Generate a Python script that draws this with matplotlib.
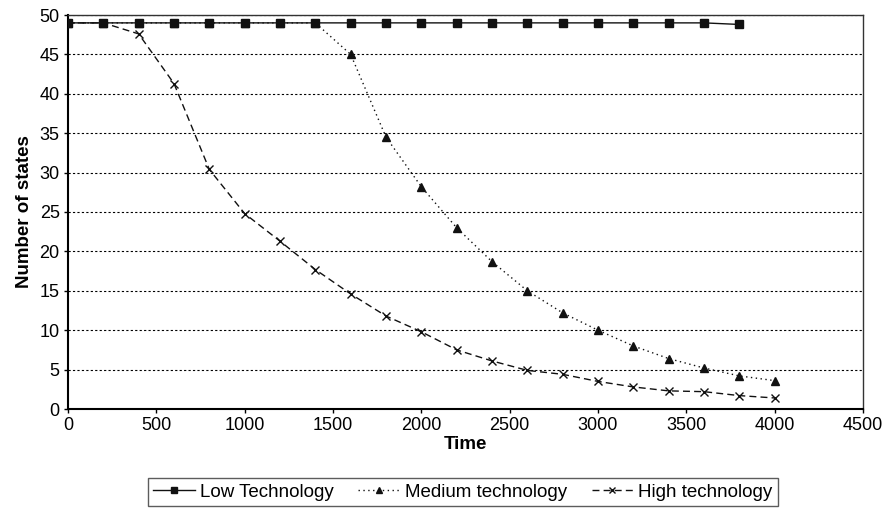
import matplotlib
matplotlib.use("Agg")
import matplotlib.pyplot as plt

plt.rcParams['font.family'] = ['Liberation Sans', 'DejaVu Sans']

time_low = [0, 200, 400, 600, 800, 1000, 1200, 1400, 1600, 1800, 2000,
            2200, 2400, 2600, 2800, 3000, 3200, 3400, 3600, 3800]
low_tech = [49, 49, 49, 49, 49, 49, 49, 49, 49, 49, 49,
            49, 49, 49, 49, 49, 49, 49, 49, 48.8]

time_all = [0, 200, 400, 600, 800, 1000, 1200, 1400, 1600, 1800, 2000,
            2200, 2400, 2600, 2800, 3000, 3200, 3400, 3600, 3800, 4000]
medium_tech = [49, 49, 49, 49, 49, 49, 49, 49, 45, 34.5, 28.2,
               23, 18.7, 15, 12.2, 10, 8, 6.4, 5.2, 4.2, 3.6]
high_tech = [49, 49, 47.6, 41.3, 30.4, 24.8, 21.3, 17.7, 14.6, 11.8, 9.8,
             7.5, 6.1, 4.9, 4.4, 3.5, 2.8, 2.3, 2.2, 1.7, 1.4]

fig = plt.figure(figsize=(8.85, 5.12), dpi=100)
ax = fig.add_axes([68 / 885, 1 - 409 / 512, 795 / 885, 394 / 512])

ax.plot(time_low, low_tech, color='#111111', linestyle='-', linewidth=1.0,
        marker='s', markersize=5.5, label='Low Technology', zorder=3)
ax.plot(time_all, medium_tech, color='#111111', linestyle=(0, (1, 2.5)), linewidth=1.0,
        marker='^', markersize=5.5, label='Medium technology', zorder=3)
ax.plot(time_all, high_tech, color='#111111', linestyle=(0, (5, 3)), linewidth=1.0,
        marker='x', markersize=6, markeredgewidth=1.0, label='High technology', zorder=3)

ax.set_xlim(0, 4500)
ax.set_ylim(0, 50)
ax.set_xticks(range(0, 4501, 500))
ax.set_yticks(range(0, 51, 5))
ax.yaxis.grid(True, color='black', linestyle=(0, (2, 2)), linewidth=0.8)
ax.set_axisbelow(True)
ax.tick_params(labelsize=13, direction='out', length=3, width=1, pad=3)

for side in ['left', 'bottom']:
    ax.spines[side].set_linewidth(1.5)
for side in ['top', 'right']:
    ax.spines[side].set_linewidth(1.0)
    ax.spines[side].set_color('#333333')

ax.set_xlabel('Time', fontsize=13.5, fontweight='bold', labelpad=1)
ax.set_ylabel('Number of states', fontsize=13.5, fontweight='bold', labelpad=5)

leg = fig.legend(loc='center', bbox_to_anchor=(463 / 885, 1 - 492 / 512), ncol=3,
                 fontsize=13.5, frameon=True, fancybox=False, edgecolor='#333333',
                 handlelength=2.2, columnspacing=1.3, handletextpad=0.3,
                 borderpad=0.3, markerscale=0.7)
leg.get_frame().set_linewidth(1.0)

fig.savefig('out.png', dpi=100)
